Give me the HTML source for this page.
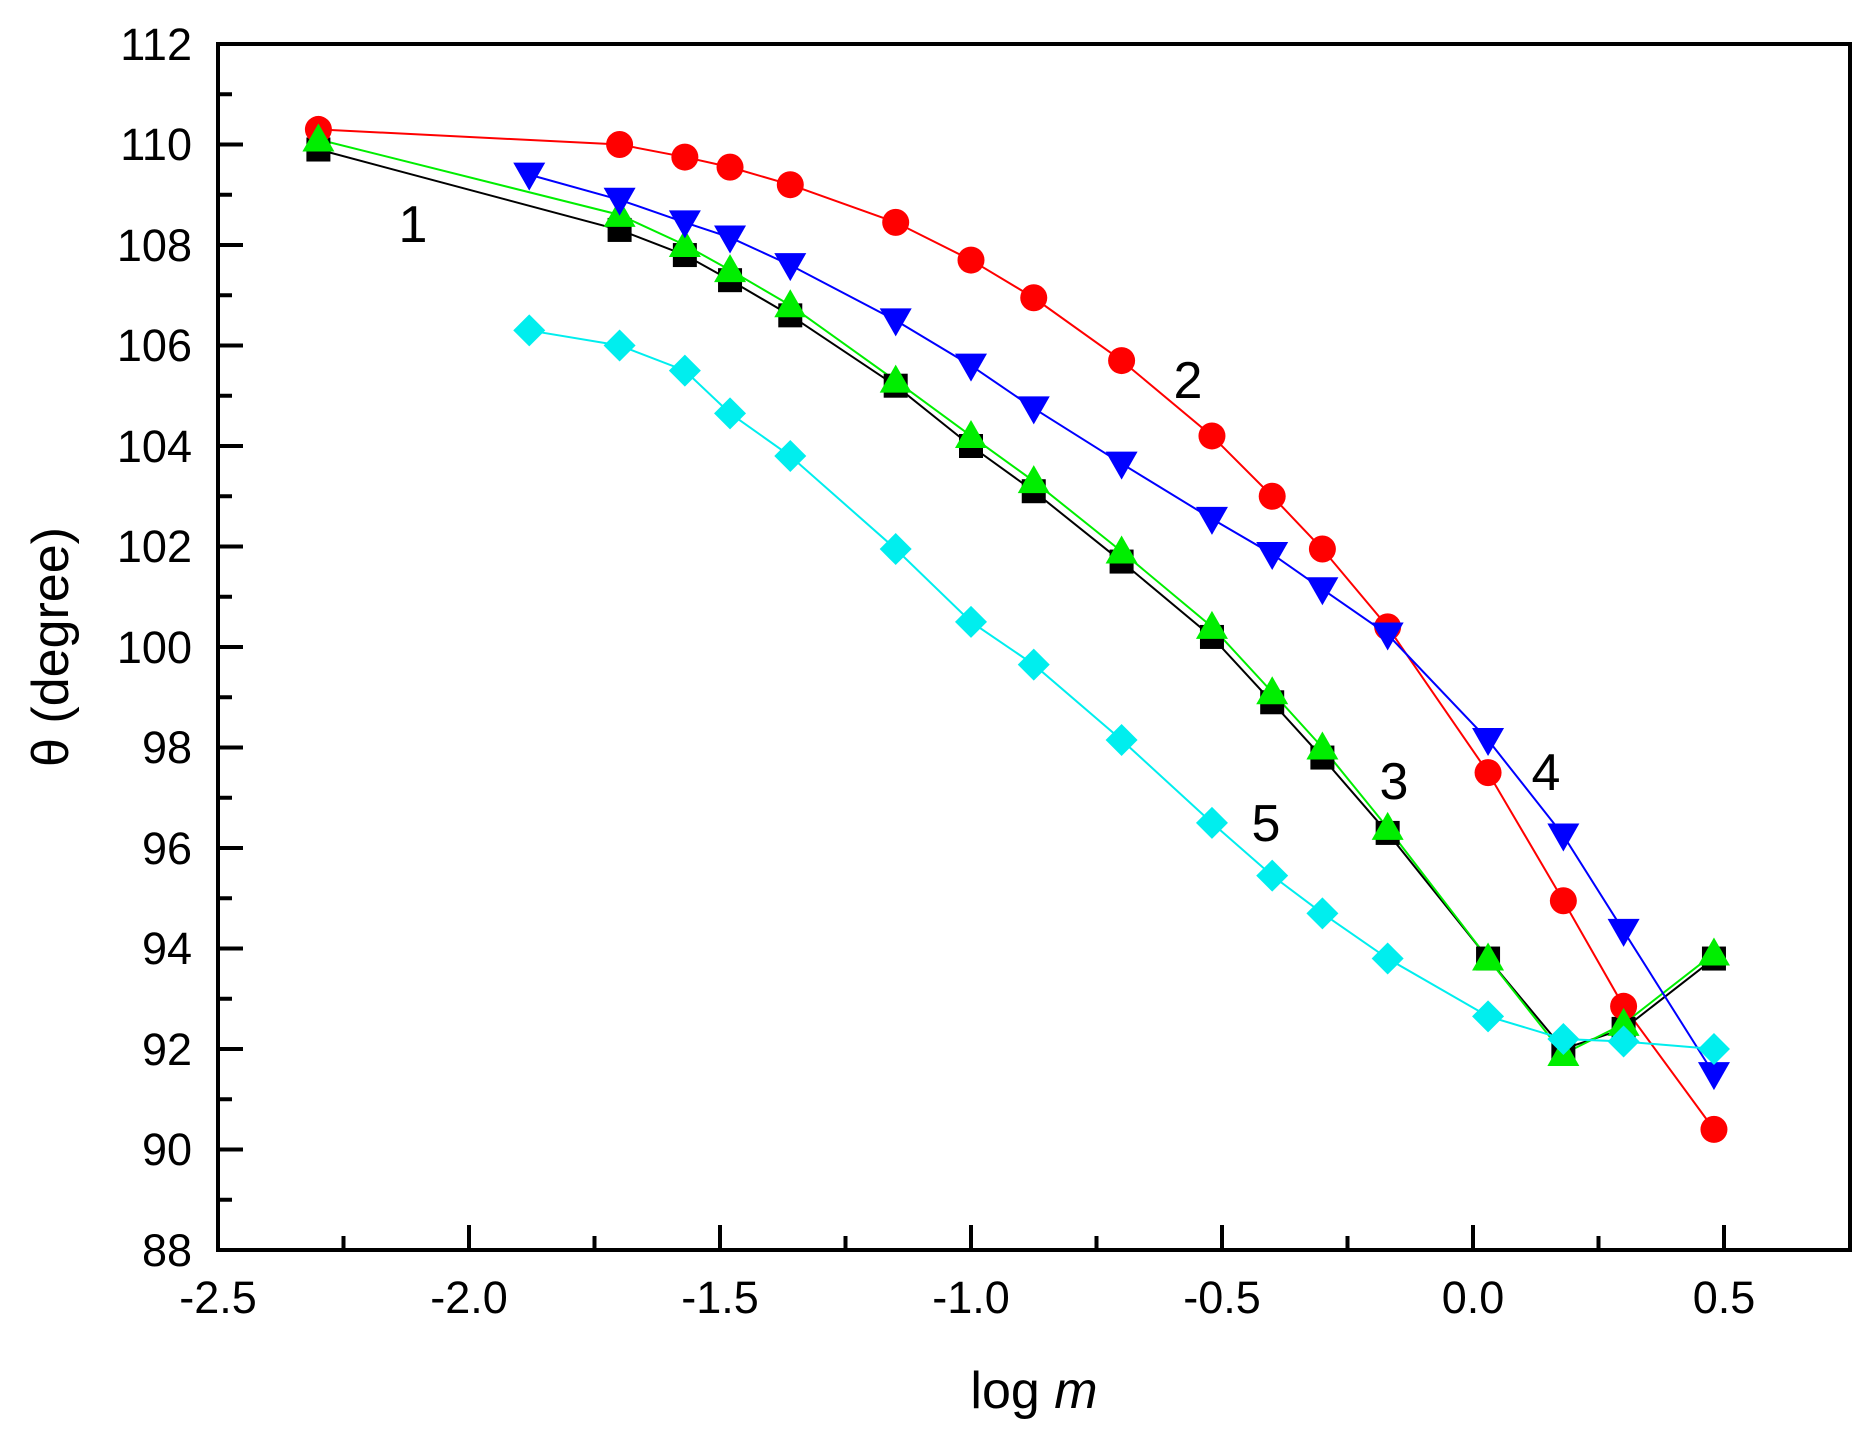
<!DOCTYPE html>
<html><head><meta charset="utf-8"><style>
html,body{margin:0;padding:0;background:#fff;}
svg{display:block;font-family:"Liberation Sans",Arial,sans-serif;}
</style></head><body>
<svg id="c" width="1868" height="1440" viewBox="0 0 1868 1440" xmlns="http://www.w3.org/2000/svg">
<rect width="1868" height="1440" fill="#fff"/>
<g id="ax"></g>
<g id="data"></g>
<rect x="218" y="44" width="1632" height="1206" fill="none" stroke="#000" stroke-width="4"/>
<g font-size="45" fill="#000" text-anchor="end">
<text x="192" y="1266">88</text><text x="192" y="1165">90</text><text x="192" y="1065">92</text><text x="192" y="964">94</text><text x="192" y="864">96</text><text x="192" y="763">98</text><text x="192" y="663">100</text><text x="192" y="562">102</text><text x="192" y="462">104</text><text x="192" y="361">106</text><text x="192" y="261">108</text><text x="192" y="160">110</text><text x="192" y="60">112</text>
</g>
<g font-size="45" fill="#000" text-anchor="middle">
<text x="218" y="1313">-2.5</text><text x="469" y="1313">-2.0</text><text x="720" y="1313">-1.5</text><text x="971" y="1313">-1.0</text><text x="1222" y="1313">-0.5</text><text x="1473" y="1313">0.0</text><text x="1724" y="1313">0.5</text>
</g>
<text x="1034" y="1408" font-size="52" text-anchor="middle">log <tspan font-style="italic">m</tspan></text>
<text transform="translate(68,647) rotate(-90)" font-size="52" text-anchor="middle">θ (degree)</text>
<g font-size="52" text-anchor="middle">
<text x="413" y="242">1</text><text x="1188" y="398">2</text><text x="1394" y="799">3</text><text x="1546" y="790">4</text><text x="1266" y="841">5</text>
</g>
</svg>
<script>
var NS="http://www.w3.org/2000/svg";
function X(v){return 218+(v+2.5)*502;}
function Y(v){return 1250-(v-88)*50.25;}
function el(t,a,p){var e=document.createElementNS(NS,t);for(var k in a)e.setAttribute(k,a[k]);p.appendChild(e);return e;}
var ax=document.getElementById('ax');
for(var i=0;i<=24;i++){var y=1250-i*50.25;var L=(i%2==0)?25:14;el('line',{x1:218,x2:218+L,y1:y,y2:y,stroke:'#000','stroke-width':4},ax);}
for(var i=0;i<=12;i++){var x=218+i*125.5;var L=(i%2==0)?25:14;el('line',{x1:x,x2:x,y1:1250,y2:1250-L,stroke:'#000','stroke-width':4},ax);}
var xs=[-2.3,-1.7,-1.57,-1.48,-1.36,-1.15,-1.0,-0.875,-0.7,-0.52,-0.4,-0.3,-0.17,0.03,0.18,0.3,0.48];
var xs2=[-1.88,-1.7,-1.57,-1.48,-1.36,-1.15,-1.0,-0.875,-0.7,-0.52,-0.4,-0.3,-0.17,0.03,0.18,0.3,0.48];
var S=[
{x:xs,y:[109.9,108.3,107.8,107.3,106.6,105.2,104.0,103.1,101.7,100.2,98.9,97.8,96.3,93.8,92.0,92.4,93.8],c:'#000',m:'sq'},
{x:xs,y:[110.3,110.0,109.75,109.55,109.2,108.45,107.7,106.95,105.7,104.2,103.0,101.95,100.4,97.5,94.95,92.85,90.4],c:'#f00',m:'ci'},
{x:xs,y:[110.1,108.6,108.0,107.5,106.8,105.3,104.2,103.3,101.9,100.4,99.1,98.0,96.4,93.8,91.9,92.5,93.9],c:'#0e0',m:'tu'},
{x:xs2,y:[109.4,108.9,108.45,108.15,107.6,106.5,105.6,104.75,103.65,102.55,101.85,101.15,100.25,98.15,96.25,94.35,91.5],c:'#00f',m:'td'},
{x:xs2,y:[106.3,106.0,105.5,104.65,103.8,101.95,100.5,99.65,98.15,96.5,95.45,94.7,93.8,92.65,92.2,92.15,92.0],c:'#0ee',m:'di'}
];
var g=document.getElementById('data');
S.forEach(function(s){
 var pts=s.x.map(function(v,i){return X(v)+','+Y(s.y[i]);}).join(' ');
 el('polyline',{points:pts,fill:'none',stroke:s.c,'stroke-width':2},g);
});
S.forEach(function(s){
 s.x.forEach(function(v,i){var x=X(v),y=Y(s.y[i]);
  if(s.m=='sq')el('rect',{x:x-12,y:y-12,width:24,height:24,fill:s.c},g);
  else if(s.m=='ci')el('circle',{cx:x,cy:y,r:13.5,fill:s.c},g);
  else if(s.m=='tu')el('polygon',{points:(x-16)+','+(y+12)+' '+(x+16)+','+(y+12)+' '+x+','+(y-16),fill:s.c},g);
  else if(s.m=='td')el('polygon',{points:(x-16)+','+(y-12)+' '+(x+16)+','+(y-12)+' '+x+','+(y+16),fill:s.c},g);
  else el('polygon',{points:x+','+(y-16)+' '+(x+16)+','+y+' '+x+','+(y+16)+' '+(x-16)+','+y,fill:s.c},g);
 });
});
</script>
</body></html>
